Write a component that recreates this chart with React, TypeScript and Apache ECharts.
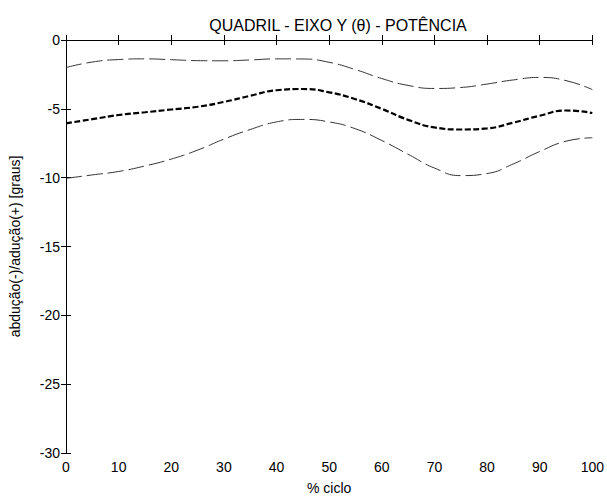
import React, { useEffect, useRef } from "react";
import * as echarts from "echarts";

// % of gait cycle
const cycle = [0, 5, 10, 15, 20, 25, 30, 35, 40, 45, 50, 55, 60, 65, 70, 75, 80, 85, 90, 95, 100];
// mean + SD
const upper = [-2.0, -1.6, -1.42, -1.37, -1.43, -1.5, -1.51, -1.45, -1.37, -1.38, -1.62, -2.15, -2.8, -3.3, -3.52, -3.45, -3.2, -2.9, -2.72, -2.95, -3.6];
// mean
const mean = [-6.05, -5.75, -5.45, -5.25, -5.05, -4.85, -4.5, -4.05, -3.65, -3.56, -3.8, -4.3, -5.0, -5.8, -6.35, -6.5, -6.42, -6.0, -5.5, -5.12, -5.3];
// mean - SD
const lower = [-10.05, -9.8, -9.55, -9.15, -8.65, -8.0, -7.2, -6.5, -5.95, -5.77, -5.95, -6.45, -7.3, -8.3, -9.3, -9.85, -9.7, -9.0, -8.1, -7.35, -7.1];

const FONT = "'Liberation Sans', Arial, sans-serif";

const pairs = (ys: number[]) => cycle.map((x, i) => [x, ys[i]]);

export default function App() {
  const ref = useRef<HTMLDivElement>(null);

  useEffect(() => {
    document.body.style.margin = "0";
    const chart = echarts.init(ref.current!, null, { renderer: "svg" });
    const axisLine = { show: true, lineStyle: { color: "#000", width: 1 } };
    const tick = { show: true, inside: true, length: 5, lineStyle: { color: "#000" } };
    const label = { color: "#000", fontFamily: FONT, fontSize: 14 };
    chart.setOption({
      animation: false,
      backgroundColor: "#fff",
      title: {
        text: "QUADRIL - EIXO Y (θ) - POTÊNCIA",
        left: 333,
        top: 12,
        textAlign: "center",
        textStyle: { color: "#000", fontFamily: FONT, fontSize: 16, fontWeight: "normal" },
      },
      grid: { left: 65, right: 14, top: 40, bottom: 44 },
      xAxis: [
        {
          type: "value",
          min: 0,
          max: 100,
          interval: 10,
          name: "% ciclo",
          nameLocation: "middle",
          nameGap: 28,
          nameTextStyle: label,
          axisLine,
          axisTick: tick,
          axisLabel: { ...label, margin: 7 },
          splitLine: { show: false },
        },
        {
          type: "value",
          position: "top",
          min: 0,
          max: 100,
          interval: 10,
          axisLine,
          axisTick: tick,
          axisLabel: { show: false },
          splitLine: { show: false },
        },
      ],
      yAxis: [
        {
          type: "value",
          min: -30,
          max: 0,
          interval: 5,
          name: "abdução(-)/adução(+) [graus]",
          nameLocation: "middle",
          nameGap: 44,
          nameTextStyle: label,
          axisLine,
          axisTick: tick,
          axisLabel: { ...label, margin: 6 },
          splitLine: { show: false },
        },
        {
          type: "value",
          position: "right",
          min: -30,
          max: 0,
          interval: 5,
          axisLine,
          axisTick: tick,
          axisLabel: { show: false },
          splitLine: { show: false },
        },
      ],
      series: [
        {
          type: "line",
          data: pairs(upper),
          smooth: true,
          symbol: "none",
          lineStyle: { color: "#333", width: 1, type: [16, 5] },
        },
        {
          type: "line",
          data: pairs(mean),
          smooth: true,
          symbol: "none",
          lineStyle: { color: "#000", width: 2.2, type: [6, 2.5] },
        },
        {
          type: "line",
          data: pairs(lower),
          smooth: true,
          symbol: "none",
          lineStyle: { color: "#333", width: 1, type: [16, 5] },
        },
      ],
    });
    return () => chart.dispose();
  }, []);

  return <div ref={ref} style={{ width: 607, height: 500 }} />;
}
